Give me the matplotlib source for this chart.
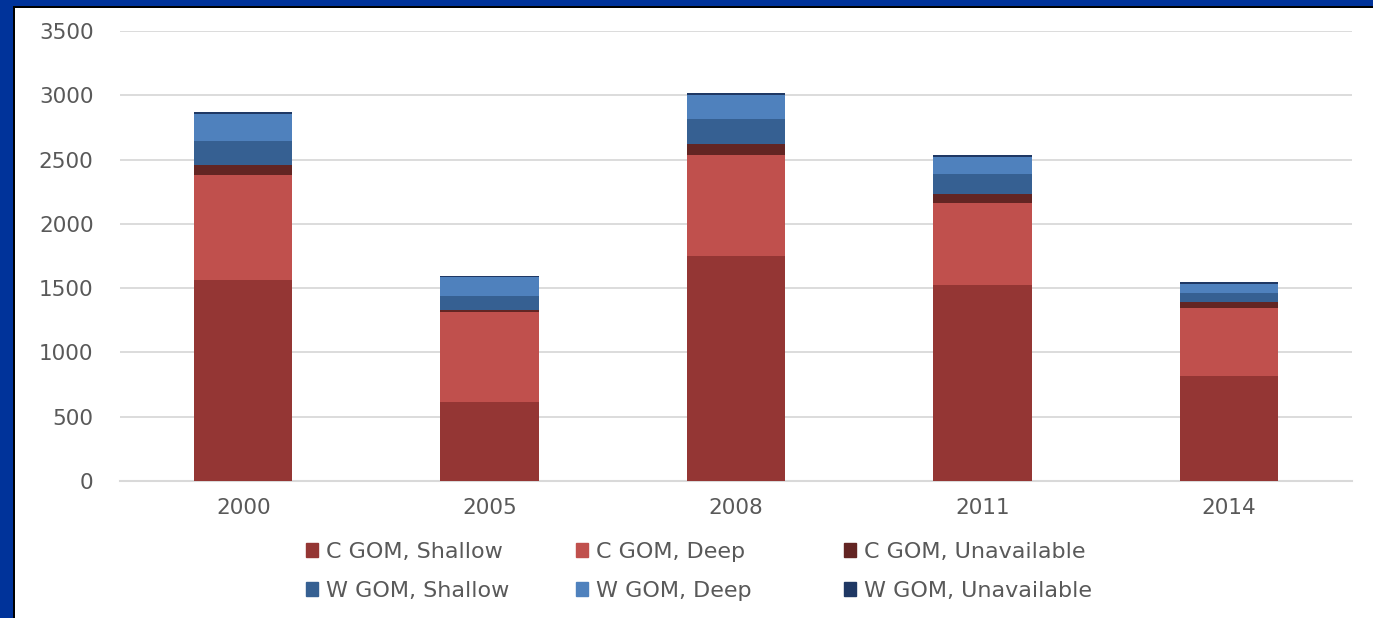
import numpy as np
import matplotlib
matplotlib.use("Agg")
import matplotlib.pyplot as plt
from matplotlib.patches import Patch, Rectangle

# data
years = ['2000', '2005', '2008', '2011', '2014']
c_shallow = [1563, 614, 1750, 1524, 819]
c_deep = [817, 700, 786, 640, 529]
c_unavail = [78, 15, 83, 65, 42]
w_shallow = [187, 109, 197, 158, 70]
w_deep = [210, 148, 184, 135, 75]
w_unavail = [15, 10, 16, 13, 16]

series = [
    ('C GOM, Shallow', c_shallow, '#943634'),
    ('C GOM, Deep', c_deep, '#c0504d'),
    ('C GOM, Unavailable', c_unavail, '#632523'),
    ('W GOM, Shallow', w_shallow, '#366092'),
    ('W GOM, Deep', w_deep, '#4f81bd'),
    ('W GOM, Unavailable', w_unavail, '#1f3864'),
]

W, H = 1373, 618
fig = plt.figure(figsize=(W / 100, H / 100), dpi=100)
ax = fig.add_axes([120 / W, 1 - 481 / H, (1352 - 120) / W, (481 - 31) / H])

txt = '#595959'
x = np.arange(len(years))
bottom = np.zeros(len(years))
for name, vals, col in series:
    ax.bar(x, vals, 0.4, bottom=bottom, color=col, label=name, zorder=3)
    bottom += np.array(vals)

ax.set_xlim(-0.5, len(years) - 0.5)
ax.set_ylim(0, 3500)
ax.set_yticks(range(0, 3501, 500))
ax.set_xticks(x)
ax.set_xticklabels(years)
ax.grid(axis='y', color='#d9d9d9', lw=1.3, zorder=0)
for s in ['top', 'right', 'left']:
    ax.spines[s].set_visible(False)
ax.spines['bottom'].set_color('#d9d9d9')
ax.spines['bottom'].set_linewidth(1.5)
ax.tick_params(axis='y', length=0, pad=19, labelsize=15.5, labelcolor=txt)
ax.tick_params(axis='x', length=0, pad=12, labelsize=15.5, labelcolor=txt)

# legend: three columns of equal width like in Excel
col_x = [306, 576, 844]
for i in range(3):
    hs = [Patch(color=series[i][2]), Patch(color=series[i + 3][2])]
    ls = [series[i][0], series[i + 3][0]]
    fig.legend(hs, ls, loc='upper left', bbox_to_anchor=(col_x[i] / W, 1 - 542 / H),
               frameon=False, fontsize=16, labelcolor=txt, borderpad=0,
               borderaxespad=0, handlelength=0.55, handleheight=0.55,
               handletextpad=0.35, labelspacing=0.85)

# blue frame on the left and top
fig.add_artist(Rectangle((0, 0), 13 / W, 1, transform=fig.transFigure,
                         color='#00339a', lw=0))
fig.add_artist(Rectangle((0, 1 - 6 / H), 1, 6 / H, transform=fig.transFigure,
                         color='#00339a', lw=0))
fig.add_artist(Rectangle((13 / W, 0), 1.5 / W, 1 - 6 / H, transform=fig.transFigure,
                         color='black', lw=0))
fig.add_artist(Rectangle((13 / W, 1 - 7.5 / H), 1 - 13 / W, 1.5 / H, transform=fig.transFigure,
                         color='black', lw=0))

fig.savefig('out.png', dpi=100)
